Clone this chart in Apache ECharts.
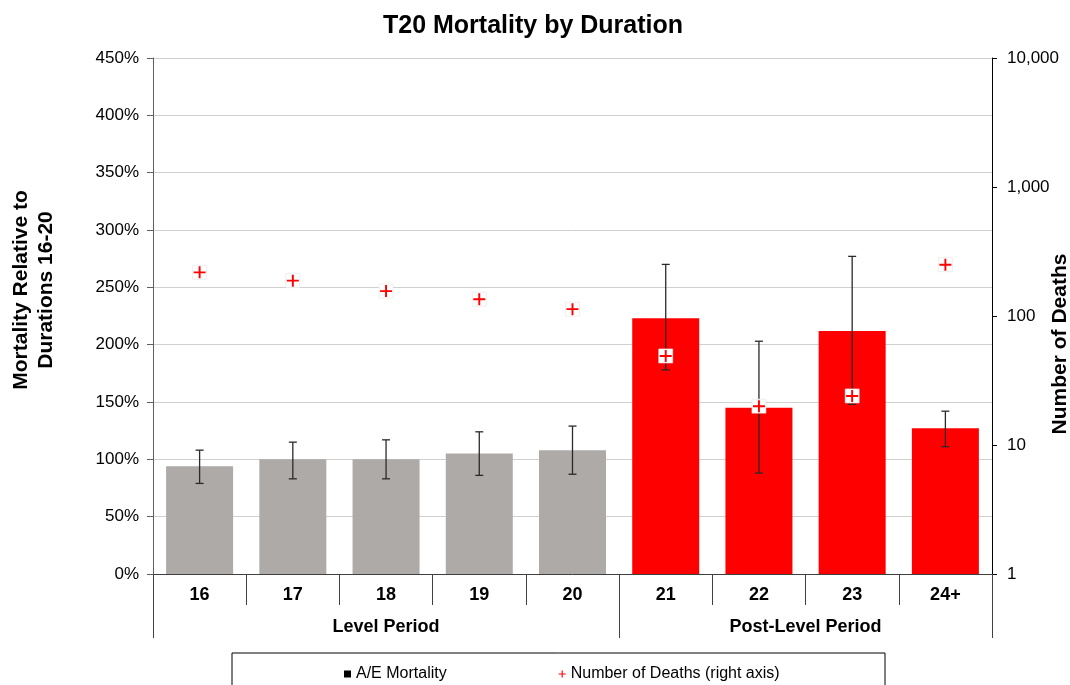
<!DOCTYPE html>
<html>
<head>
<meta charset="utf-8">
<script src="https://cdn.jsdelivr.net/npm/echarts@6/dist/echarts.min.js"></script>
<style>
  html, body { margin: 0; padding: 0; background: #fff; }
  #main { width: 1070px; height: 685px; }
</style>
</head>
<body>
<div id="main"></div>
<script>
// durations
var durations = ['16', '17', '18', '19', '20', '21', '22', '23', '24+']
// A/E mortality (%) and error bar ends
var aeMortality = [94, 100, 100, 105, 108, 223, 145, 212, 127]
var errLow = [79, 83, 83, 86, 87, 178, 88, 148, 111]
var errHigh = [108, 115, 117, 124, 129, 270, 203, 277, 142]
// number of deaths (right axis, log)
var deaths = [218, 188, 156, 135, 113, 49, 20, 24, 250]
// period groups
var groupNames = ['Level Period', 'Post-Level Period']
var groupSizes = [5, 4]

var barColors = ['#aeaaa8', '#ff0000']
var font = 'Liberation Sans, Arial, sans-serif'

// group boundaries and centres on a 0..n scale
var bounds = [0]
var centres = []
groupSizes.forEach(function (s, i) {
  centres.push(bounds[i] + s / 2)
  bounds.push(bounds[i] + s)
})

var barData = aeMortality.map(function (v, i) {
  return {
    value: v,
    itemStyle: { color: i < groupSizes[0] ? barColors[0] : barColors[1] }
  }
})
var errData = durations.map(function (d, i) {
  return [i, errLow[i], errHigh[i]]
})

var plusPath = 'path://M4.2,0 L5.8,0 L5.8,4.2 L10,4.2 L10,5.8 L5.8,5.8 L5.8,10 L4.2,10 L4.2,5.8 L0,5.8 L0,4.2 L4.2,4.2 Z'

var chart = echarts.init(document.getElementById('main'))

chart.setOption({
  animation: false,
  textStyle: { fontFamily: font },
  title: {
    text: 'T20 Mortality by Duration',
    left: 528,
    textAlign: 'center',
    top: 9,
    textStyle: { fontSize: 25, fontWeight: 'bold', color: '#000', fontFamily: font }
  },
  grid: { left: 153, right: 78, top: 58, bottom: 111 },
  legend: {
    left: 339,
    top: 661,
    itemGap: 112,
    itemWidth: 7,
    itemHeight: 7,
    textStyle: { fontSize: 16, color: '#000', fontFamily: font },
    data: [
      { name: 'A/E Mortality', icon: 'rect', itemStyle: { color: '#000' } },
      { name: 'Number of Deaths (right axis)', icon: plusPath, itemStyle: { color: '#ff0000' } }
    ]
  },
  graphic: [
    {
      type: 'rect',
      shape: { x: 232, y: 653, width: 653, height: 50 },
      style: { fill: 'none', stroke: '#000', lineWidth: 1 }
    },
    {
      type: 'text',
      x: 34, y: 290,
      rotation: Math.PI / 2,
      style: {
        text: 'Mortality Relative to\nDurations 16-20',
        font: 'bold 21px ' + font,
        fill: '#000',
        align: 'center',
        verticalAlign: 'middle',
        lineHeight: 25
      }
    },
    {
      type: 'text',
      x: 1060, y: 344,
      rotation: Math.PI / 2,
      style: {
        text: 'Number of Deaths',
        font: 'bold 21px ' + font,
        fill: '#000',
        align: 'center',
        verticalAlign: 'middle'
      }
    }
  ],
  xAxis: [
    {
      type: 'category',
      data: durations,
      boundaryGap: true,
      axisLine: { lineStyle: { color: '#404040', width: 1 } },
      axisTick: { show: true, interval: 0, length: 31, lineStyle: { color: '#404040' } },
      axisLabel: { interval: 0, margin: 12, fontSize: 18, fontWeight: 'bold', color: '#000' }
    },
    {
      type: 'value',
      position: 'bottom',
      min: 0,
      max: durations.length,
      axisLine: { show: false },
      splitLine: { show: false },
      axisTick: { show: true, length: 64, customValues: bounds, lineStyle: { color: '#404040' } },
      axisLabel: {
        customValues: centres,
        margin: 44,
        fontSize: 18,
        fontWeight: 'bold',
        color: '#000',
        formatter: function (v) {
          var k = centres.indexOf(v)
          return k >= 0 ? groupNames[k] : ''
        }
      }
    }
  ],
  yAxis: [
    {
      type: 'value',
      min: 0,
      max: 450,
      interval: 50,
      axisLine: { show: true, lineStyle: { color: '#606060' } },
      axisTick: { show: true, length: 6, lineStyle: { color: '#606060' } },
      axisLabel: { formatter: '{value}%', fontSize: 17, color: '#000', margin: 14 },
      splitLine: { show: true, lineStyle: { color: '#d0d0d0', width: 1 } }
    },
    {
      type: 'log',
      logBase: 10,
      min: 1,
      max: 10000,
      position: 'right',
      axisLine: { show: true, lineStyle: { color: '#000' } },
      axisTick: { show: true, length: 5, lineStyle: { color: '#000' } },
      axisLabel: {
        fontSize: 17,
        color: '#000',
        margin: 15,
        formatter: function (v) { return Math.round(v).toLocaleString('en-US') }
      },
      splitLine: { show: false },
      minorTick: { show: false }
    }
  ],
  series: [
    {
      name: 'A/E Mortality',
      type: 'bar',
      barWidth: 67,
      itemStyle: { color: '#000' },
      data: barData,
      z: 2
    },
    {
      name: 'errors',
      type: 'custom',
      z: 3,
      data: errData,
      renderItem: function (params, api) {
        var lo = api.coord([api.value(0), api.value(1)])
        var hi = api.coord([api.value(0), api.value(2)])
        var cap = 4
        var st = { stroke: '#2a2a2a', lineWidth: 1.3 }
        return {
          type: 'group',
          children: [
            { type: 'line', shape: { x1: lo[0], y1: lo[1], x2: hi[0], y2: hi[1] }, style: st },
            { type: 'line', shape: { x1: lo[0] - cap, y1: lo[1], x2: lo[0] + cap, y2: lo[1] }, style: st },
            { type: 'line', shape: { x1: hi[0] - cap, y1: hi[1], x2: hi[0] + cap, y2: hi[1] }, style: st }
          ]
        }
      }
    },
    {
      name: 'deathsBg',
      type: 'scatter',
      yAxisIndex: 1,
      symbol: 'rect',
      symbolSize: 14,
      itemStyle: { color: '#fff', borderColor: '#e4e4e4', borderWidth: 0.6, opacity: 1 },
      data: deaths,
      z: 4
    },
    {
      name: 'Number of Deaths (right axis)',
      type: 'scatter',
      yAxisIndex: 1,
      symbol: plusPath,
      symbolSize: 12,
      itemStyle: { color: '#ff0000', opacity: 1 },
      data: deaths,
      z: 5
    }
  ]
})
</script>
</body>
</html>
